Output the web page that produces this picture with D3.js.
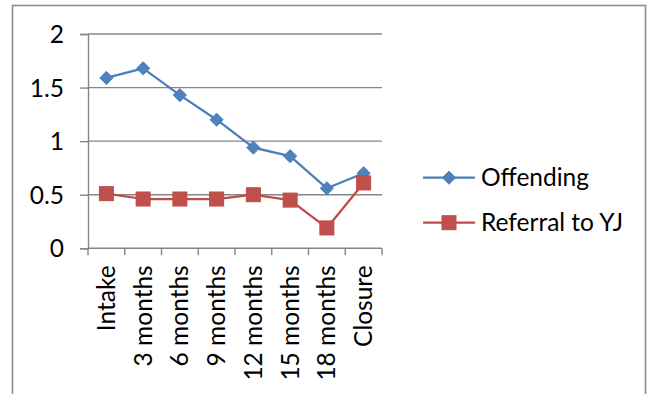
<!DOCTYPE html>
<html>
<head>
<meta charset="utf-8">
<script src="https://cdn.jsdelivr.net/npm/d3@7"></script>
<style>
  html, body { margin: 0; padding: 0; background: #fff; }
  svg { display: block; }
  text { font-family: Lato, "Open Sans", sans-serif; fill: #000; }
</style>
</head>
<body>
<svg id="chart" width="649" height="394"></svg>
<script>
// Time points along the x axis
const categories = ["Intake", "3 months", "6 months", "9 months", "12 months", "15 months", "18 months", "Closure"];
// Mean score per time point
const offending = [1.59, 1.68, 1.43, 1.20, 0.94, 0.86, 0.56, 0.70];
const referralToYJ = [0.51, 0.46, 0.46, 0.46, 0.50, 0.45, 0.19, 0.61];
const yTicks = [0, 0.5, 1, 1.5, 2];
const yTickLabels = ["0", "0.5", "1", "1.5", "2"];
const seriesNames = ["Offending", "Referral to YJ"];

const series = [
  { name: seriesNames[0], values: offending, line: "#4A7EBB", fill: "#4F81BD", stroke: "#4A7EBB", shape: "diamond" },
  { name: seriesNames[1], values: referralToYJ, line: "#BE4B48", fill: "#C0504D", stroke: "#BE4B48", shape: "square" }
];

const FONT = 24.5;
const svg = d3.select("#chart");
const plot = { left: 88, right: 382, top: 34, bottom: 248.3 };
const grid = "#868686";

// Outer chart frame
svg.append("rect")
  .attr("x", 12.5).attr("y", 5.5)
  .attr("width", 633).attr("height", 400)
  .attr("fill", "none").attr("stroke", "#8c8c8c").attr("stroke-width", 1.6);

const x = d3.scaleBand().domain(categories).range([plot.left, plot.right]).paddingInner(0).paddingOuter(0);
const y = d3.scaleLinear().domain([0, 2]).range([plot.bottom, plot.top]);

// Horizontal gridlines
svg.append("g").selectAll("line").data(yTicks.slice(1)).join("line")
  .attr("x1", plot.left).attr("x2", plot.right)
  .attr("y1", d => y(d)).attr("y2", d => y(d))
  .attr("stroke", grid).attr("stroke-width", 1.4);

// Y axis
const yAxis = svg.append("g").attr("transform", `translate(${plot.left},0)`)
  .call(d3.axisLeft(y).tickValues(yTicks).tickFormat((d, i) => yTickLabels[i]).tickSize(8).tickPadding(16));
yAxis.select(".domain").attr("stroke", grid).attr("stroke-width", 1.4);
yAxis.selectAll(".tick line").attr("stroke", grid).attr("stroke-width", 1.4);
yAxis.selectAll(".tick text").attr("font-size", FONT).attr("font-family", "Lato, sans-serif").attr("dy", "0.35em");

// X axis with ticks at category boundaries
const xAxisG = svg.append("g").attr("transform", `translate(0,${plot.bottom})`);
xAxisG.append("line").attr("x1", plot.left).attr("x2", plot.right)
  .attr("stroke", grid).attr("stroke-width", 1.4);
const boundaries = categories.map(c => x(c)).concat([plot.right]);
xAxisG.selectAll("line.tk").data(boundaries).join("line").attr("class", "tk")
  .attr("x1", d => d).attr("x2", d => d).attr("y1", 0).attr("y2", 7)
  .attr("stroke", grid).attr("stroke-width", 1.4);
xAxisG.selectAll("text").data(categories).join("text")
  .attr("transform", d => `translate(${x(d) + x.bandwidth() / 2 + 8.5},17) rotate(-90)`)
  .attr("text-anchor", "end")
  .attr("font-size", FONT)
  .text(d => d);

// Series lines and markers
const line = d3.line().x((d, i) => x(categories[i]) + x.bandwidth() / 2).y(d => y(d));
const diamond = d3.symbol().type(d3.symbolDiamond2).size(110);

function marker(g, s, cx, cy) {
  if (s.shape === "diamond") {
    g.append("path").attr("d", diamond()).attr("transform", `translate(${cx},${cy})`)
      .attr("fill", s.fill).attr("stroke", s.stroke).attr("stroke-width", 1);
  } else {
    g.append("rect").attr("x", cx - 7).attr("y", cy - 7).attr("width", 14).attr("height", 14)
      .attr("fill", s.fill).attr("stroke", s.stroke).attr("stroke-width", 1);
  }
}

series.forEach(s => {
  svg.append("path").datum(s.values).attr("d", line)
    .attr("fill", "none").attr("stroke", s.line).attr("stroke-width", 2.25).attr("stroke-linejoin", "round");
});
series.forEach(s => {
  const g = svg.append("g");
  s.values.forEach((v, i) => marker(g, s, x(categories[i]) + x.bandwidth() / 2, y(v)));
});

// Legend
const legend = svg.append("g");
series.forEach((s, i) => {
  const ly = 177.7 + i * 45;
  legend.append("line").attr("x1", 423).attr("x2", 475).attr("y1", ly).attr("y2", ly)
    .attr("stroke", s.line).attr("stroke-width", 2.25);
  marker(legend, s, 449, ly);
  legend.append("text").attr("x", 481).attr("y", ly).attr("dy", "0.35em")
    .attr("font-size", FONT).text(s.name);
});
</script>
</body>
</html>
